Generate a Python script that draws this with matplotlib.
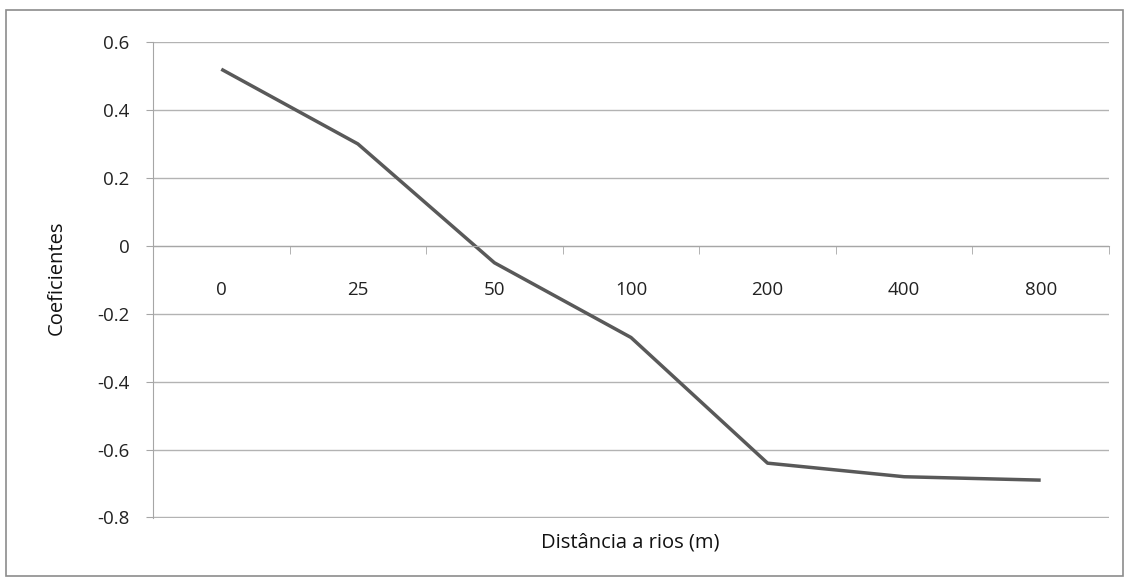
import numpy as np
import matplotlib.pyplot as plt
from matplotlib.patches import Rectangle

# dados
categorias = ['0', '25', '50', '100', '200', '400', '800']
coeficientes = [0.52, 0.30, -0.05, -0.27, -0.64, -0.68, -0.69]
yticks = [-0.8, -0.6, -0.4, -0.2, 0, 0.2, 0.4, 0.6]
ytick_labels = ['-0.8', '-0.6', '-0.4', '-0.2', '0', '0.2', '0.4', '0.6']

plt.rcParams['font.family'] = ['Open Sans', 'DejaVu Sans']

fig = plt.figure(figsize=(11.3, 5.78), dpi=100)
ax = fig.add_axes([0.1354, 0.1038, 0.8460, 0.8235])

x = np.arange(len(categorias))
ax.plot(x, coeficientes, color='#595959', linewidth=2.5, solid_capstyle='butt')

ax.set_xlim(-0.5, len(categorias) - 0.5)
ax.set_ylim(-0.8015, 0.6)
ax.set_yticks(yticks)
ax.set_yticklabels(ytick_labels)
ax.yaxis.grid(True, color='#b3b3b3', linewidth=1)
ax.set_axisbelow(True)

# eixo x na linha do zero
ax.spines['bottom'].set_position(('data', 0))
ax.spines['bottom'].set_color('#a6a6a6')
ax.spines['left'].set_color('#a6a6a6')
ax.spines['top'].set_visible(False)
ax.spines['right'].set_visible(False)

ax.set_xticks(x)
ax.set_xticklabels(categorias)
ax.set_xticks(np.arange(len(categorias) + 1) - 0.5, minor=True)
ax.tick_params(axis='x', which='major', length=0, pad=25, labelsize=13.5, labelcolor='#222222')
ax.tick_params(axis='x', which='minor', length=5.5, color='#a6a6a6', direction='out')
ax.tick_params(axis='y', length=5, color='#a6a6a6', pad=12, labelsize=13.5, labelcolor='#222222')

fig.text(0.5575, 0.062, 'Distância a rios (m)', ha='center', va='center', fontsize=14.5, color='#111111')
fig.text(0.050, 0.519, 'Coeficientes', ha='center', va='center', rotation=90, fontsize=14.5, color='#111111')

# borda externa
fig.patches.append(Rectangle((6 / 1130, 2 / 578), 1117 / 1130, 566 / 578, transform=fig.transFigure,
                             fill=False, edgecolor='#8c8c8c', linewidth=1.2))

fig.savefig('out.png', dpi=100)
